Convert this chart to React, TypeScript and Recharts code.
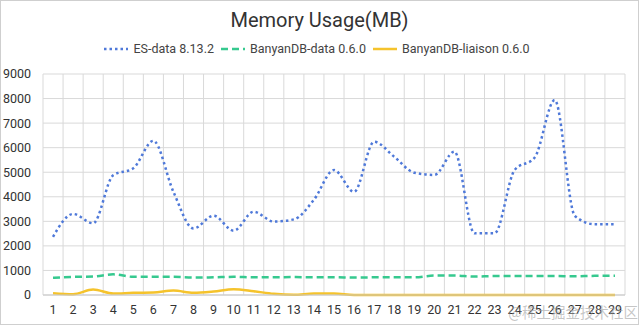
import { LineChart, Line, XAxis, YAxis, CartesianGrid } from "recharts";

const days = [
  "1", "2", "3", "4", "5", "6", "7", "8", "9", "10", "11", "12", "13", "14", "15",
  "16", "17", "18", "19", "20", "21", "22", "23", "24", "25", "26", "27", "28", "29",
];

const esData = [
  2370, 3300, 2920, 4880, 5160, 6280, 4200, 2710, 3230, 2620, 3390, 2990, 3080, 3880, 5090,
  4200, 6240, 5630, 4980, 4890, 5840, 2510, 2510, 5090, 5600, 7940, 3220, 2880, 2880,
];

const banyanData = [
  700, 740, 750, 840, 740, 740, 740, 710, 720, 740, 720, 720, 730, 720, 720,
  710, 720, 720, 720, 790, 790, 750, 770, 770, 770, 770, 760, 780, 780,
];

const banyanLiaison = [
  70, 30, 220, 60, 90, 100, 180, 90, 140, 230, 150, 50, 10, 60, 60,
  0, 0, 0, 0, 0, 0, 0, 0, 0, 0, 0, 0, 0, 0,
];

const yTicks = [0, 1000, 2000, 3000, 4000, 5000, 6000, 7000, 8000, 9000];

const series = [
  { key: "es", name: "ES-data 8.13.2", color: "#4f79d9", dash: "2.5 3" },
  { key: "bd", name: "BanyanDB-data 0.6.0", color: "#36c98f", dash: "7 4" },
  { key: "bl", name: "BanyanDB-liaison 0.6.0", color: "#f5c32c", dash: undefined },
];

const data = days.map((d, i) => ({
  day: d,
  es: esData[i],
  bd: banyanData[i],
  bl: banyanLiaison[i],
}));

const font = "Roboto, 'Noto Sans', sans-serif";

// line chart uses a point scale, so pad half a category on each side
const halfBand = 10;

export default function App() {
  return (
    <div
      style={{
        position: "absolute",
        left: 0,
        top: 0,
        width: 637,
        height: 323,
        border: "1px solid #cfcfcf",
        background: "#fff",
        fontFamily: font,
        overflow: "hidden",
      }}
    >
      <LineChart
        width={637}
        height={323}
        data={data}
        margin={{ top: 73, right: 13, bottom: 0, left: 0 }}
      >
        <CartesianGrid
          stroke="#d9d9d9"
          verticalCoordinatesGenerator={({ offset }: any) =>
            days.map((_, i) => offset.left + (i * offset.width) / days.length).concat([
              offset.left + offset.width,
            ])
          }
        />
        <XAxis
          dataKey="day"
          interval={0}
          padding={{ left: halfBand, right: halfBand }}
          tickLine={false}
          axisLine={{ stroke: "#c8c8c8" }}
          tick={{ fontSize: 12.5, fill: "#333", fontFamily: font }}
          tickMargin={4}
          height={29}
        />
        <YAxis
          domain={[0, 9000]}
          ticks={yTicks}
          width={42}
          tickLine={false}
          axisLine={false}
          tick={{ fontSize: 12.5, fill: "#333", fontFamily: font }}
          tickMargin={6}
        />
        {series.map((s) => (
          <Line
            key={s.key}
            dataKey={s.key}
            name={s.name}
            type="monotone"
            stroke={s.color}
            strokeWidth={2.5}
            strokeDasharray={s.dash}
            dot={false}
            isAnimationActive={false}
          />
        ))}
      </LineChart>
      <div
        style={{
          position: "absolute",
          top: 7,
          left: 0,
          width: "100%",
          textAlign: "center",
          fontSize: 20,
          color: "#333",
        }}
      >
        Memory Usage(MB)
      </div>
      <div
        style={{
          position: "absolute",
          top: 40,
          left: 0,
          width: "100%",
          display: "flex",
          justifyContent: "center",
          fontSize: 12.5,
          color: "#444",
        }}
      >
        {series.map((s) => (
          <span key={s.key} style={{ display: "flex", alignItems: "center", marginRight: 6 }}>
            <svg width={26} height={10} style={{ marginRight: 4 }}>
              <line
                x1={1}
                y1={5}
                x2={25}
                y2={5}
                stroke={s.color}
                strokeWidth={2.5}
                strokeDasharray={s.dash}
              />
            </svg>
            {s.name}
          </span>
        ))}
      </div>
      <div
        style={{
          position: "absolute",
          right: 0,
          top: 300,
          fontSize: 14.5,
          color: "rgba(160,160,160,0.6)",
          fontFamily: "'Noto Sans CJK SC', sans-serif",
        }}
      >
        @稀土掘金技术社区
      </div>
    </div>
  );
}
